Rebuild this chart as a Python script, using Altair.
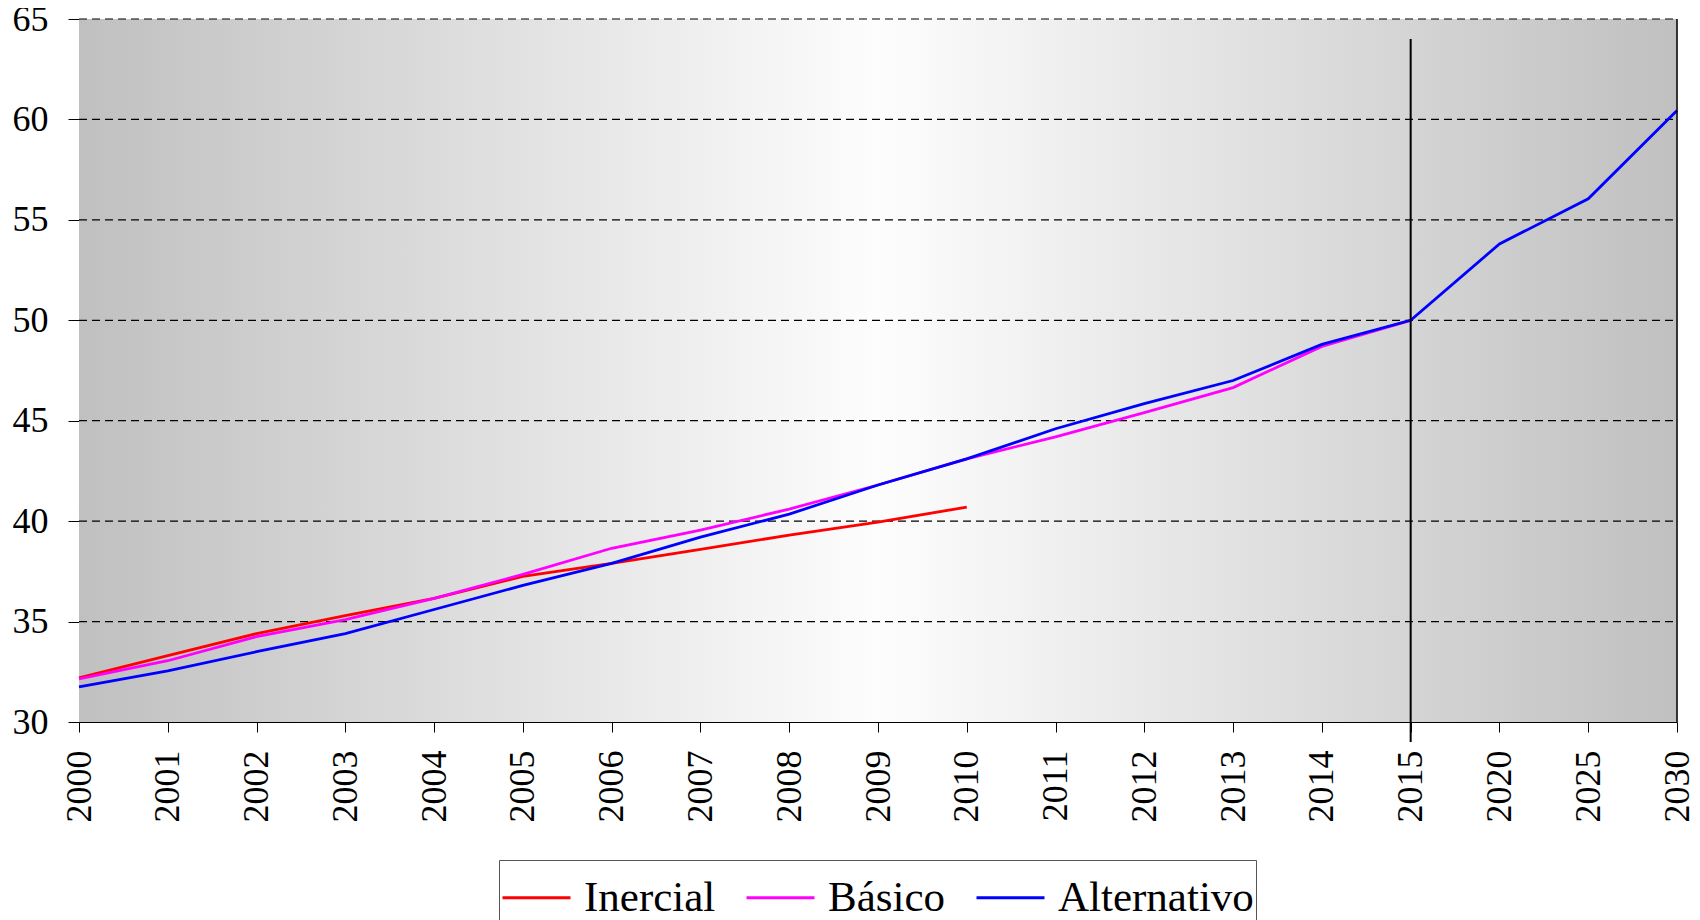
import altair as alt
import pandas as pd

years = ["2000", "2001", "2002", "2003", "2004", "2005", "2006", "2007", "2008",
         "2009", "2010", "2011", "2012", "2013", "2014", "2015", "2020", "2025", "2030"]
inercial = [32.2, 33.3, 34.4, 35.3, 36.15, 37.25, 37.9, 38.6, 39.3, 39.95, 40.7]
basico = [32.15, 33.05, 34.25, 35.1, 36.15, 37.35, 38.65, 39.55, 40.6, 41.8, 43.1,
          44.2, 45.4, 46.65, 48.7, 50.0]
alternativo = [31.75, 32.55, 33.5, 34.4, 35.6, 36.8, 37.9, 39.2, 40.35, 41.8, 43.1,
               44.6, 45.85, 47.0, 48.8, 50.0, 53.8, 56.05, 60.45]
series_names = ["Inercial", "Básico", "Alternativo"]
series_colors = ["#ff0000", "#ff00ff", "#0000ff"]
y_ticks = [30, 35, 40, 45, 50, 55, 60, 65]
grid_values = [35, 40, 45, 50, 55, 60, 65]
marker_year = "2015"
marker_top = 64.0

rows = []
for k, (name, vals) in enumerate(zip(series_names, [inercial, basico, alternativo])):
    for i, v in enumerate(vals):
        rows.append({"Año": years[i], "Valor": v, "Escenario": name, "orden": k})
df = pd.DataFrame(rows)

W, H = 1598, 703
FONT = "Liberation Serif"

x_scale = alt.Scale(type="point", padding=0, domain=years)
y_scale = alt.Scale(domain=[30, 65], nice=False, zero=False)
y_axis = alt.Axis(title=None, values=y_ticks, labelFontSize=36, labelPadding=20, tickSize=11,
                  tickColor="#000", domainColor="#000", labelColor="#000",
                  grid=False, labelFont=FONT)
x_axis = alt.Axis(title=None, labelAngle=270, labelFontSize=36, labelPadding=18,
                  tickSize=10, tickColor="#000", domainColor="#000",
                  labelColor="#000", grid=False, labelFont=FONT)

bg = alt.Chart(alt.Data(values=[{"a": 1}])).mark_rect(
    color=alt.LinearGradient(
        gradient="linear", x1=0, x2=1, y1=0, y2=0,
        stops=[alt.GradientStop(offset=0, color="#c0c0c0"),
               alt.GradientStop(offset=0.5, color="#fdfdfd"),
               alt.GradientStop(offset=1, color="#c0c0c0")]),
    strokeWidth=0,
).encode(x=alt.value(0), x2=alt.value(W), y=alt.value(0), y2=alt.value(H))

grid = alt.Chart(pd.DataFrame({"g": grid_values})).mark_rule(
    color="#000", strokeWidth=1.2, strokeDash=[8, 5]
).encode(
    y=alt.Y("g:Q", scale=y_scale, axis=y_axis),
    x=alt.value(0), x2=alt.value(W),
)

lines = alt.Chart(df).mark_line(strokeWidth=2.8).encode(
    x=alt.X("Año:O", sort=years, scale=x_scale, axis=x_axis),
    y=alt.Y("Valor:Q", scale=y_scale, axis=y_axis),
    color=alt.Color("Escenario:N",
                    scale=alt.Scale(domain=series_names, range=series_colors),
                    legend=alt.Legend(title=None, orient="none", legendX=420, legendY=841,
                                      direction="horizontal", symbolType="stroke",
                                      symbolSize=4624, symbolStrokeWidth=2.8,
                                      labelFontSize=43, labelFont=FONT, labelColor="#000",
                                      labelLimit=400,
                                      labelOffset=12, columnPadding=24, padding=2,
                                      strokeColor="#555", fillColor="#ffffff")),
    order=alt.Order("orden:Q"),
)

marker = alt.Chart(alt.Data(values=[{"Año": marker_year, "top": marker_top}])).mark_rule(
    color="#000", strokeWidth=2
).encode(
    x=alt.X("Año:O", sort=years, scale=x_scale, axis=x_axis),
    y=alt.Y("top:Q", scale=y_scale, axis=y_axis),
    y2=alt.value(H + 20),
)

right_border = alt.Chart(alt.Data(values=[{"a": 1}])).mark_rule(
    color="#000", strokeWidth=1.5
).encode(x=alt.value(W), y=alt.value(0), y2=alt.value(H))

chart = alt.layer(bg, grid, lines, marker, right_border).properties(
    width=W, height=H,
    autosize=alt.AutoSizeParams(type="none"),
    padding={"left": 71, "top": 11, "right": 15, "bottom": 203},
).configure_view(stroke="#9a9a9a", strokeWidth=1).configure(font=FONT)

chart.save("out.html", embed_options={"renderer": "svg", "actions": False})
